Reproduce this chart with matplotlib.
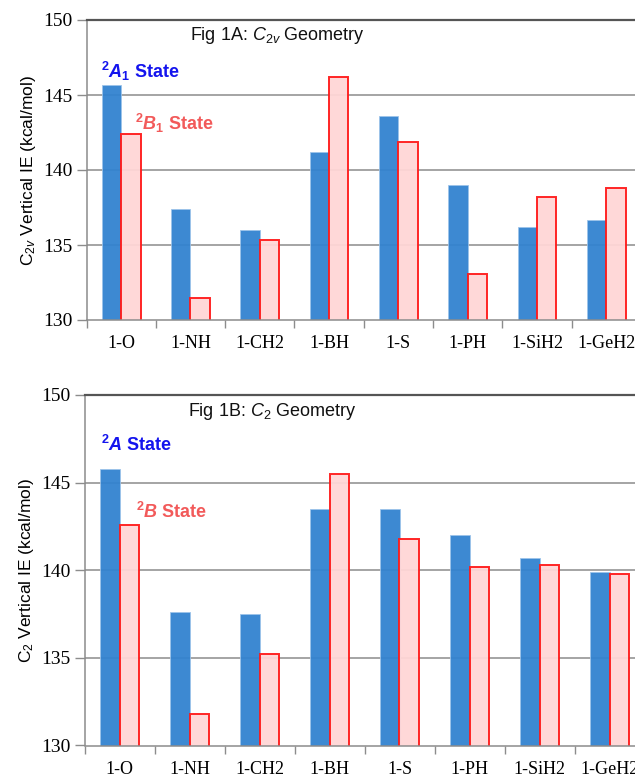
import matplotlib
matplotlib.use("Agg")
import matplotlib.pyplot as plt
import numpy as np

categories = ["1-O", "1-NH", "1-CH2", "1-BH", "1-S", "1-PH", "1-SiH2", "1-GeH2"]
c2v_A1 = [145.7, 137.4, 136.0, 141.2, 143.6, 139.0, 136.2, 136.7]
c2v_B1 = [142.4, 131.5, 135.3, 146.2, 141.9, 133.1, 138.2, 138.8]
c2_A = [145.8, 137.6, 137.5, 143.5, 143.5, 142.0, 140.7, 139.9]
c2_B = [142.6, 131.8, 135.2, 145.5, 141.8, 140.2, 140.3, 139.8]
yticks = [130, 135, 140, 145, 150]

plt.rcParams['mathtext.fontset'] = 'custom'
plt.rcParams['mathtext.rm'] = 'Liberation Sans'
plt.rcParams['mathtext.it'] = 'Liberation Sans:italic'
plt.rcParams['mathtext.bf'] = 'Liberation Sans:bold'
plt.rcParams['mathtext.bfit'] = 'Liberation Sans:italic:bold'

W, H = 635, 779
fig = plt.figure(figsize=(W / 100, H / 100), dpi=100)

BLUE = '#3283d0'
PINK_FACE = '#ffd6d6'
PINK_EDGE = '#ff1a1a'
GRID = '#8c8c8c'


def make_axes(rect, a, b, ylabel):
    ax = fig.add_axes(rect)
    x = np.arange(len(categories))
    w = 0.28
    ax.bar(x - w / 2, a, w, color=BLUE, edgecolor='#9cc3ea', linewidth=0.6, zorder=2,
           alpha=0.95)
    ax.bar(x + w / 2, b, w, color=PINK_FACE, edgecolor=PINK_EDGE, linewidth=1.4, zorder=2, alpha=0.95)
    ax.set_ylim(130, 150)
    ax.set_xlim(-0.5, len(categories) - 0.5)
    ax.set_yticks(yticks)
    ax.set_yticklabels([str(v) for v in yticks], fontfamily='Liberation Serif', fontsize=14)
    ax.set_xticks(x)
    ax.set_xticklabels(categories, fontfamily='Liberation Serif', fontsize=13)
    ax.set_xticks(np.arange(len(categories) + 1) - 0.5, minor=True)
    ax.tick_params(axis='x', which='major', length=0, pad=11)
    ax.tick_params(axis='x', which='minor', length=6, color=GRID, width=1)
    ax.tick_params(axis='y', length=7, color=GRID, width=1, pad=3)
    for v in yticks[1:-1]:
        ax.axhline(v, color=GRID, linewidth=1.1, zorder=1)
    for s in ['left', 'bottom']:
        ax.spines[s].set_color(GRID)
        ax.spines[s].set_linewidth(1.1)
    ax.spines['top'].set_color('#555555')
    ax.spines['top'].set_linewidth(1.6)
    ax.spines['right'].set_color(GRID)
    ax.set_ylabel(ylabel, fontfamily='Liberation Sans', fontsize=12.5, labelpad=4)
    return ax


ax1 = make_axes([86.5 / W, 1 - 320 / H, 554.4 / W, 300 / H], c2v_A1, c2v_B1,
                r"C$_{2v}$ Vertical IE (kcal/mol)")
ax2 = make_axes([84.5 / W, 1 - 745.5 / H, 560 / W, 350.5 / H], c2_A, c2_B,
                r"C$_{2}$ Vertical IE (kcal/mol)")

def ftext(px, py, s, **kw):
    fig.text(px / W, 1 - py / H, s, va='center', ha='left', **kw)

ftext(190, 35, r"Fig 1A: $\mathit{C}_{2v}$ Geometry", fontfamily='Liberation Sans', fontsize=13, color='#111111')
ftext(101, 71, r"$^{\mathbf{2}}\mathbfit{A}_{\mathbf{1}}$ State", fontfamily='Liberation Sans',
      fontsize=13, fontweight='bold', color='#1414ee')
ftext(135, 123, r"$^{\mathbf{2}}\mathbfit{B}_{\mathbf{1}}$ State", fontfamily='Liberation Sans',
      fontsize=13, fontweight='bold', color='#f25a5a')

ftext(188, 412, r"Fig 1B: $\mathit{C}_{2}$ Geometry", fontfamily='Liberation Sans', fontsize=13, color='#111111')
ftext(101, 445, r"$^{\mathbf{2}}\mathbfit{A}$ State", fontfamily='Liberation Sans',
      fontsize=13, fontweight='bold', color='#1414ee')
ftext(136, 512, r"$^{\mathbf{2}}\mathbfit{B}$ State", fontfamily='Liberation Sans',
      fontsize=13, fontweight='bold', color='#f25a5a')

fig.savefig("out.png", dpi=100)
